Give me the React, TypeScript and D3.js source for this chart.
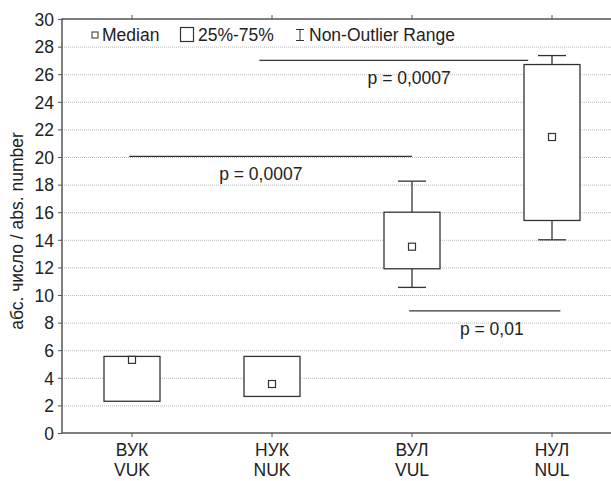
import * as d3 from 'd3'
import React, { useRef, useEffect } from 'react'

const categories = ['ВУК\nVUK', 'НУК\nNUK', 'ВУЛ\nVUL', 'НУЛ\nNUL']
const q1 = [2.3, 2.65, 11.9, 15.4]
const q3 = [5.55, 5.55, 16.0, 26.7]
const medians = [5.3, 3.55, 13.5, 21.45]
const whiskerLow = [2.3, 2.65, 10.55, 14.0]
const whiskerHigh = [5.55, 5.55, 18.25, 27.35]
const yTicks = [0, 2, 4, 6, 8, 10, 12, 14, 16, 18, 20, 22, 24, 26, 28, 30]

// significance bars: from/to in category units, level in y units
const sigFrom = [0.91, -0.02, 1.98]
const sigTo = [2.83, 2.0, 3.06]
const sigLevel = [27.0, 20.05, 8.85]
const sigLabels = ['p = 0,0007', 'p = 0,0007', 'p = 0,01']
const sigLabelAt = [1.98, 0.92, 2.57]

const App = () => {
  const ref = useRef(null)

  useEffect(() => {
    draw()
  }, [])

  const draw = () => {
    const W = 611
    const H = 481
    const left = 62
    const top = 19
    const bottom = 433
    const font = '"Liberation Sans", Arial, sans-serif'
    const ink = '#333'
    const fs = 17.5

    const svg = d3.select(ref.current).attr('width', W).attr('height', H)
    svg.selectAll('*').remove()
    svg.append('rect').attr('width', W).attr('height', H).attr('fill', '#fff')

    const x = d3.scaleLinear().domain([-0.5, 3.5]).range([left, left + 560])
    const y = d3.scaleLinear().domain([0, 30]).range([bottom, top])

    // grid
    svg
      .selectAll('.grid')
      .data(yTicks.filter((d) => d > 0 && d < 30))
      .enter()
      .append('line')
      .attr('x1', left)
      .attr('x2', W)
      .attr('y1', (d) => y(d) + 0.5)
      .attr('y2', (d) => y(d) + 0.5)
      .attr('stroke', '#bbb')
      .attr('stroke-width', 1)
      .attr('stroke-dasharray', '1,1')

    // frame
    svg
      .append('path')
      .attr('d', `M${W},${top}H${left}V${bottom}H${W}`)
      .attr('fill', 'none')
      .attr('stroke', '#555')
      .attr('stroke-width', 1.5)

    // y axis
    const yAxis = d3.axisLeft(y).tickValues(yTicks).tickSize(4).tickSizeOuter(0)
    const yg = svg.append('g').attr('transform', `translate(${left},0)`).call(yAxis)
    yg.select('.domain').remove()
    yg.selectAll('line').attr('stroke', '#555')
    yg.selectAll('text')
      .attr('font-family', font)
      .attr('font-size', fs)
      .attr('fill', '#222')
      .attr('x', -8)
      .attr('dy', '0.36em')

    // x ticks
    const idx = categories.map((_, i) => i)
    svg
      .selectAll('.xt')
      .data(idx)
      .enter()
      .append('line')
      .attr('x1', (d) => x(d))
      .attr('x2', (d) => x(d))
      .attr('y1', bottom)
      .attr('y2', bottom + 4)
      .attr('stroke', '#555')
    svg
      .selectAll('.xtt')
      .data(idx)
      .enter()
      .append('line')
      .attr('x1', (d) => x(d))
      .attr('x2', (d) => x(d))
      .attr('y1', top)
      .attr('y2', top - 4)
      .attr('stroke', '#555')

    const xl = svg
      .selectAll('.xl')
      .data(categories)
      .enter()
      .append('text')
      .attr('text-anchor', 'middle')
      .attr('font-family', font)
      .attr('font-size', fs)
      .attr('fill', '#222')
    xl.append('tspan')
      .attr('x', (_, i) => x(i))
      .attr('y', 456)
      .text((d) => d.split('\n')[0])
    xl.append('tspan')
      .attr('x', (_, i) => x(i))
      .attr('y', 476)
      .text((d) => d.split('\n')[1])

    // y label
    svg
      .append('text')
      .attr('transform', `translate(23,231) rotate(-90)`)
      .attr('text-anchor', 'middle')
      .attr('font-family', font)
      .attr('font-size', fs)
      .attr('fill', '#222')
      .text('абс. число / abs. number')

    // boxes and whiskers
    const boxW = 56
    const capW = 28
    const g = svg.append('g').attr('stroke', ink).attr('stroke-width', 1.3)
    idx.forEach((i) => {
      const cx = x(i)
      if (whiskerHigh[i] > q3[i]) {
        g.append('line').attr('x1', cx).attr('x2', cx).attr('y1', y(q3[i])).attr('y2', y(whiskerHigh[i]))
        g.append('line')
          .attr('x1', cx - capW / 2)
          .attr('x2', cx + capW / 2)
          .attr('y1', y(whiskerHigh[i]))
          .attr('y2', y(whiskerHigh[i]))
      }
      if (whiskerLow[i] < q1[i]) {
        g.append('line').attr('x1', cx).attr('x2', cx).attr('y1', y(q1[i])).attr('y2', y(whiskerLow[i]))
        g.append('line')
          .attr('x1', cx - capW / 2)
          .attr('x2', cx + capW / 2)
          .attr('y1', y(whiskerLow[i]))
          .attr('y2', y(whiskerLow[i]))
      }
      g.append('rect')
        .attr('x', cx - boxW / 2)
        .attr('y', y(q3[i]))
        .attr('width', boxW)
        .attr('height', y(q1[i]) - y(q3[i]))
        .attr('fill', '#fff')
      g.append('rect')
        .attr('x', cx - 3.5)
        .attr('y', y(medians[i]) - 3.5)
        .attr('width', 7)
        .attr('height', 7)
        .attr('fill', '#fff')
        .attr('stroke-width', 1.2)
    })

    // significance bars
    sigLevel.forEach((lv, i) => {
      svg
        .append('line')
        .attr('x1', x(sigFrom[i]))
        .attr('x2', x(sigTo[i]))
        .attr('y1', y(lv))
        .attr('y2', y(lv))
        .attr('stroke', ink)
        .attr('stroke-width', 1.2)
      svg
        .append('text')
        .attr('x', x(sigLabelAt[i]))
        .attr('y', y(lv) + 24)
        .attr('text-anchor', 'middle')
        .attr('font-family', font)
        .attr('font-size', fs)
        .attr('fill', '#222')
        .text(sigLabels[i])
    })

    // legend
    const lg = svg.append('g').attr('font-family', font).attr('font-size', fs).attr('fill', '#222')
    lg.append('rect').attr('x', 92).attr('y', 32).attr('width', 6).attr('height', 6).attr('fill', '#fff').attr('stroke', ink)
    lg.append('text').attr('x', 102).attr('y', 41).text('Median')
    lg.append('rect').attr('x', 180.5).attr('y', 27.5).attr('width', 13).attr('height', 14).attr('fill', '#fff').attr('stroke', ink).attr('stroke-width', 1.2)
    lg.append('text').attr('x', 198).attr('y', 41).text('25%-75%')
    lg.append('path').attr('d', 'M296,29.5H304M300,29.5V40.5M296,40.5H304').attr('stroke', ink).attr('fill', 'none')
    lg.append('text').attr('x', 309).attr('y', 41).text('Non-Outlier Range')
  }

  return (
    <div style={{ position: 'absolute', left: 0, top: 0 }}>
      <svg ref={ref} style={{ display: 'block' }} />
    </div>
  )
}

export default App
